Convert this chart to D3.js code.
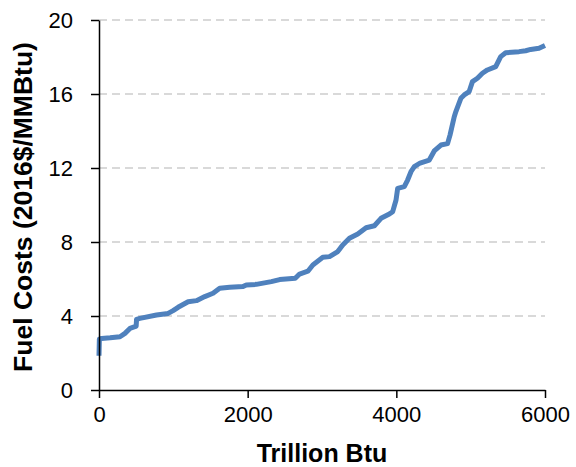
<!DOCTYPE html>
<html><head><meta charset="utf-8">
<script src="https://cdn.jsdelivr.net/npm/d3@7"></script>
<style>
html,body{margin:0;padding:0;background:#fff;}
svg{display:block;font-family:"Liberation Sans",Arial,sans-serif;}
</style></head>
<body><svg id="c" width="576" height="467"></svg>
<script>
const supplyTBtu = [0,5,36,150,282,349,416,483,500,505,550,774,930,997,1064,1199,1311,1423,1534,1624,1758,1937,1982,2116,2318,2430,2640,2698,2810,2877,3011,3101,3212,3279,3369,3481,3593,3705,3794,3906,3951,3996,4018,4107,4152,4197,4242,4320,4443,4510,4600,4689,4722,4743,4779,4801,4868,4913,4980,5024,5091,5158,5225,5337,5404,5471,5651,5740,5807,5919,6000];
const fuelCost = [1.85,2.75,2.79,2.82,2.88,3.06,3.33,3.42,3.45,3.82,3.87,4.05,4.14,4.29,4.47,4.77,4.83,5.05,5.23,5.5,5.55,5.59,5.68,5.71,5.86,5.97,6.04,6.27,6.42,6.76,7.17,7.21,7.48,7.84,8.2,8.43,8.77,8.88,9.28,9.51,9.64,10.27,10.9,10.99,11.35,11.8,12.07,12.27,12.43,12.92,13.24,13.32,13.78,14.14,14.77,15.05,15.77,15.95,16.13,16.67,16.85,17.12,17.3,17.48,18.02,18.23,18.29,18.34,18.41,18.47,18.62];
const xTicks = [0,2000,4000,6000];
const yTicks = [0,4,8,12,16,20];
const xTitle = "Trillion Btu";
const yTitle = "Fuel Costs (2016$/MMBtu)";

const svg = d3.select("#c");
const L = 99, R = 545, T = 20, B = 390;
const x = d3.scaleLinear().domain([0,6000]).range([L,R]);
const y = d3.scaleLinear().domain([0,20]).range([B,T]);

// gridlines
svg.append("g").selectAll("line").data(yTicks.filter(d=>d>0)).join("line")
  .attr("x1",L).attr("x2",R).attr("y1",d=>y(d)).attr("y2",d=>y(d))
  .attr("stroke","#d9d9d9").attr("stroke-width",2).attr("stroke-dasharray","8,5");

// line
const pts = supplyTBtu.map((v,i)=>[v,fuelCost[i]]);
svg.append("path").datum(pts)
  .attr("d", d3.line().x(d=>x(d[0])).y(d=>y(d[1])))
  .attr("fill","none").attr("stroke","#4f81bd").attr("stroke-width",5)
  .attr("stroke-linejoin","round");

// axes
const xAxis = svg.append("g").attr("transform",`translate(0,${B})`)
  .call(d3.axisBottom(x).tickValues(xTicks).tickFormat(d3.format("d")).tickSize(8).tickPadding(8).tickSizeOuter(0));
const yAxis = svg.append("g").attr("transform",`translate(${L},0)`)
  .call(d3.axisLeft(y).tickValues(yTicks).tickFormat(d3.format("d")).tickSize(8).tickPadding(18).tickSizeOuter(0));
[xAxis,yAxis].forEach(a=>{
  a.select(".domain").attr("stroke","#000").attr("stroke-width",1.5);
  a.selectAll(".tick line").attr("stroke","#000").attr("stroke-width",1.5);
  a.selectAll("text").attr("fill","#000").style("font-size","22px")
   .style("font-family","'Liberation Sans',Arial,sans-serif");
});

// titles
svg.append("text").attr("x",(L+R)/2).attr("y",462).attr("text-anchor","middle")
  .style("font-size","25px").style("font-weight","bold").text(xTitle);
svg.append("text").attr("transform",`translate(32,${(T+B)/2+2}) rotate(-90)`)
  .attr("text-anchor","middle")
  .style("font-size","26.5px").style("font-weight","bold").text(yTitle);
</script></body></html>
